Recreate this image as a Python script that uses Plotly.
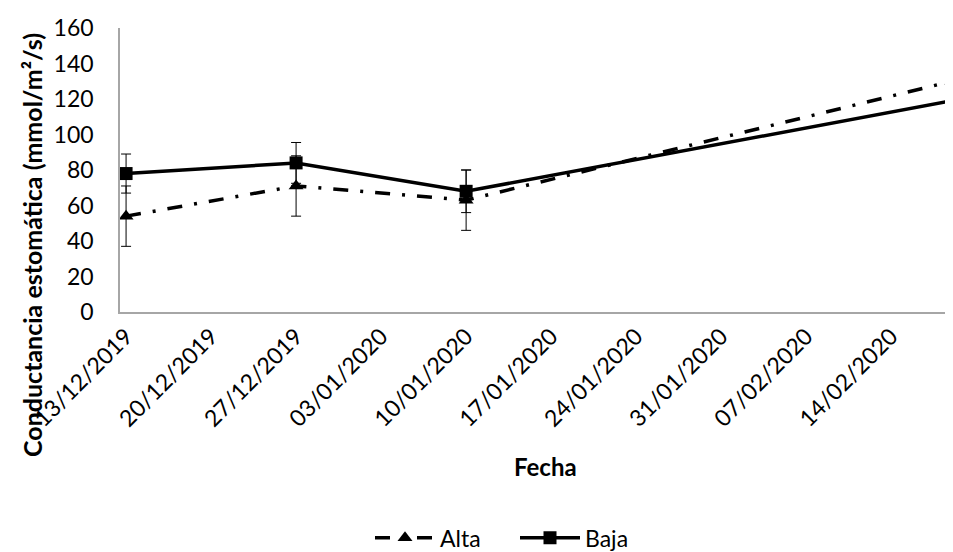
import plotly.graph_objects as go

fechas = ["2019-12-13", "2019-12-27", "2020-01-10", "2020-02-19"]
alta = [54, 71, 63, 130]
alta_err = [17, 17, 17, 19]
baja = [78, 84, 68, 119]
baja_err = [11, 11.5, 12, 10]
tick_fechas = ["2019-12-13", "2019-12-20", "2019-12-27", "2020-01-03", "2020-01-10",
               "2020-01-17", "2020-01-24", "2020-01-31", "2020-02-07", "2020-02-14"]
tick_labels = ["13/12/2019", "20/12/2019", "27/12/2019", "03/01/2020", "10/01/2020",
               "17/01/2020", "24/01/2020", "31/01/2020", "07/02/2020", "14/02/2020"]

FONT = "Lato"
L, T, PW, PH = 112, 20, 841, 288

fig = go.Figure()
fig.add_trace(go.Scatter(
    x=fechas, y=alta, name="Alta", mode="lines+markers",
    line=dict(color="black", width=3.5, dash="15px,12px,3px,12px"),
    marker=dict(symbol="triangle-up", size=13, color="black"),
    error_y=dict(type="data", array=alta_err, color="black", thickness=1, width=5),
))
fig.add_trace(go.Scatter(
    x=fechas, y=baja, name="Baja", mode="lines+markers",
    line=dict(color="black", width=3.5),
    marker=dict(symbol="square", size=13, color="black"),
    error_y=dict(type="data", array=baja_err, color="black", thickness=1, width=5),
))

fig.update_layout(
    width=953, height=552,
    margin=dict(l=L, r=953 - L - PW, t=T, b=552 - T - PH),
    paper_bgcolor="white", plot_bgcolor="white",
    font=dict(family=FONT, color="black", size=23),
    showlegend=True,
    legend=dict(orientation="h", x=(362 - L) / PW, xanchor="left",
                y=(T + PH - 537) / PH, yanchor="middle",
                itemwidth=60, entrywidth=70, tracegroupgap=0,
                font=dict(size=23, family=FONT)),
    xaxis=dict(
        type="date", automargin=False,
        range=["2019-12-12 12:00", "2020-02-19 18:00"],
        tickvals=tick_fechas, ticktext=tick_labels, tickangle=-45,
        tickfont=dict(size=23, family=FONT),
        showgrid=False, zeroline=False,
        showline=True, linecolor="#a6a6a6", linewidth=1.5,
        ticks="",
    ),
    yaxis=dict(
        range=[0, 160], dtick=20, automargin=False,
        tickfont=dict(size=23, family=FONT),
        showgrid=False, zeroline=False,
        showline=True, linecolor="#a6a6a6", linewidth=1.5,
        ticks="", ticklabelstandoff=20,
    ),
    annotations=[
        dict(text="<b>Conductancia estomática (mmol/m²/s)</b>", textangle=-90,
             xref="paper", yref="paper", x=(24 - L) / PW, y=(T + PH - 240) / PH,
             xanchor="center", yanchor="middle", showarrow=False,
             font=dict(size=25, family=FONT)),
        dict(text="<b>Fecha</b>", xref="paper", yref="paper",
             x=(537 - L) / PW, y=(T + PH - 465) / PH, xanchor="center", yanchor="middle",
             showarrow=False, font=dict(size=24, family=FONT)),
    ],
)

fig.write_html("out.html")
